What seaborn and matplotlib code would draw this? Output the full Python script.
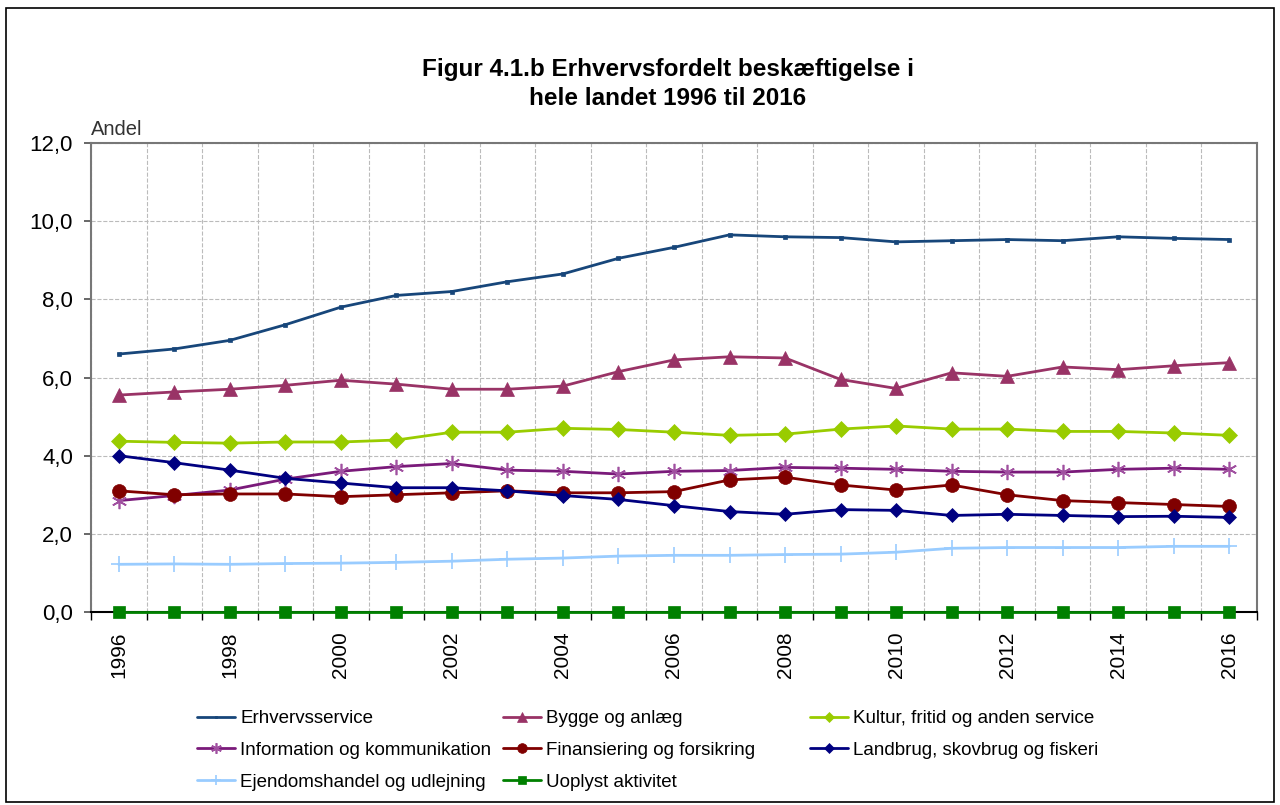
import numpy as np
import pandas as pd
import seaborn as sns
import matplotlib.pyplot as plt
from matplotlib.ticker import FuncFormatter, FixedLocator
from matplotlib.patches import Rectangle

years = list(range(1996, 2017))

erhvervsservice = [6.60, 6.73, 6.95, 7.35, 7.80, 8.10, 8.20, 8.45, 8.65, 9.05, 9.33,
                   9.65, 9.60, 9.58, 9.47, 9.50, 9.53, 9.50, 9.60, 9.56, 9.53]
bygge = [5.55, 5.63, 5.70, 5.80, 5.93, 5.83, 5.70, 5.70, 5.78, 6.15, 6.45,
         6.53, 6.50, 5.95, 5.72, 6.12, 6.03, 6.27, 6.20, 6.30, 6.38]
kultur = [4.37, 4.34, 4.32, 4.35, 4.35, 4.40, 4.60, 4.60, 4.70, 4.67, 4.60,
          4.52, 4.55, 4.68, 4.76, 4.68, 4.68, 4.62, 4.62, 4.58, 4.52]
information = [2.85, 2.98, 3.12, 3.40, 3.60, 3.72, 3.80, 3.63, 3.60, 3.53, 3.60,
               3.62, 3.70, 3.68, 3.65, 3.60, 3.58, 3.58, 3.65, 3.68, 3.65]
finans = [3.10, 3.00, 3.02, 3.02, 2.95, 3.00, 3.05, 3.10, 3.05, 3.05, 3.08,
          3.38, 3.45, 3.25, 3.12, 3.25, 3.00, 2.85, 2.80, 2.75, 2.70]
landbrug = [4.00, 3.82, 3.63, 3.42, 3.30, 3.18, 3.18, 3.10, 2.98, 2.88, 2.72,
            2.57, 2.50, 2.62, 2.60, 2.47, 2.50, 2.47, 2.44, 2.45, 2.42]
ejendom = [1.22, 1.23, 1.22, 1.24, 1.25, 1.27, 1.30, 1.35, 1.38, 1.43, 1.45,
           1.45, 1.47, 1.48, 1.53, 1.63, 1.65, 1.65, 1.65, 1.68, 1.68]
uoplyst = [0.0] * 21

# (navn, data, farve, markør, markørstørrelse, kantfarve)
serier = [
    ("Erhvervsservice", erhvervsservice, "#17467A", "s", 3, "#17467A"),
    ("Bygge og anlæg", bygge, "#993366", "^", 10, "#993366"),
    ("Kultur, fritid og anden service", kultur, "#99CC00", "D", 8, "#99CC00"),
    ("Information og kommunikation", information, "#7A1A7A", (6, 2, 0), 11, "#A050A0"),
    ("Finansiering og forsikring", finans, "#800000", "o", 10, "#800000"),
    ("Landbrug, skovbrug og fiskeri", landbrug, "#000080", "D", 7, "#000080"),
    ("Ejendomshandel og udlejning", ejendom, "#99CCFF", "+", 11, "#99CCFF"),
    ("Uoplyst aktivitet", uoplyst, "#008000", "s", 9, "#008000"),
]

sns.set_theme(style="white")
plt.rcParams['font.family'] = ['Liberation Sans', 'DejaVu Sans']
plt.rcParams['text.color'] = 'black'
plt.rcParams['xtick.color'] = 'black'
plt.rcParams['ytick.color'] = 'black'

fig = plt.figure(figsize=(12.8, 8.05), dpi=100)
ax = fig.add_axes([91 / 1280, 1 - 612 / 805, (1257 - 91) / 1280, (612 - 143) / 805])

for navn, data, farve, mk, ms, kant in serier:
    sns.lineplot(x=years, y=data, ax=ax, color=farve, linewidth=2, marker=mk,
                 markersize=ms, markeredgecolor=kant, markerfacecolor=kant,
                 markeredgewidth=1.2 if mk in ("+", (6, 2, 0)) else 0.5,
                 label=navn, zorder=3, clip_on=False)

ax.set_xlim(1995.5, 2016.5)
ax.set_ylim(0, 12)
ax.set_yticks(np.arange(0, 12.1, 2))
ax.yaxis.set_major_formatter(FuncFormatter(lambda v, p: f"{v:.1f}".replace(".", ",")))
ax.set_xticks(years[::2])
ax.set_xticklabels([str(y) for y in years[::2]], rotation=90, fontsize=15)
ax.xaxis.set_minor_locator(FixedLocator(np.arange(1995.5, 2017, 1)))
ax.tick_params(axis="x", which="major", length=0, pad=14)
ax.tick_params(axis="x", which="minor", length=6, color="black", bottom=True)
ax.tick_params(axis="y", which="major", length=5, color="#555555", left=True,
               labelsize=16, pad=8)

ax.grid(axis="y", which="major", linestyle="--", linewidth=0.8, color="#BBBBBB")
ax.grid(axis="x", which="minor", linestyle="--", linewidth=0.8, color="#BBBBBB")
ax.grid(axis="x", which="major", visible=False)

for side in ["left", "top", "right"]:
    ax.spines[side].set_color("#777777")
    ax.spines[side].set_linewidth(1.5)
ax.spines["bottom"].set_color("black")
ax.spines["bottom"].set_linewidth(1.5)
ax.set_xlabel("")
ax.set_ylabel("")

ax.text(0.0, 1.008, "Andel", transform=ax.transAxes, fontsize=14.5, ha="left",
        va="bottom", color="#333333")

fig.text(668 / 1280, 1 - 84 / 805, "Figur 4.1.b Erhvervsfordelt beskæftigelse i\nhele landet 1996 til 2016",
         ha="center", va="center", fontsize=17.5, fontweight="bold", linespacing=1.3)

# legende i tre kolonner placeret hver for sig
handles, labels = ax.get_legend_handles_labels()
ax.get_legend().remove()
kolonner = [([0, 3, 6], 184), ([1, 4, 7], 490), ([2, 5], 797)]
for idx, x0 in kolonner:
    fig.legend([handles[i] for i in idx], [labels[i] for i in idx], loc="upper left",
               bbox_to_anchor=(x0 / 1280, 1 - 697 / 805), frameon=False, fontsize=13.5,
               handlelength=2.0, labelspacing=0.78, handletextpad=0.3, markerscale=0.7,
               borderpad=0.2)

fig.patches.append(Rectangle((6 / 1280, 3 / 805), 1268 / 1280, 794 / 805, transform=fig.transFigure,
                             fill=False, edgecolor="black", linewidth=1.2))

fig.savefig("out.png", dpi=100)
